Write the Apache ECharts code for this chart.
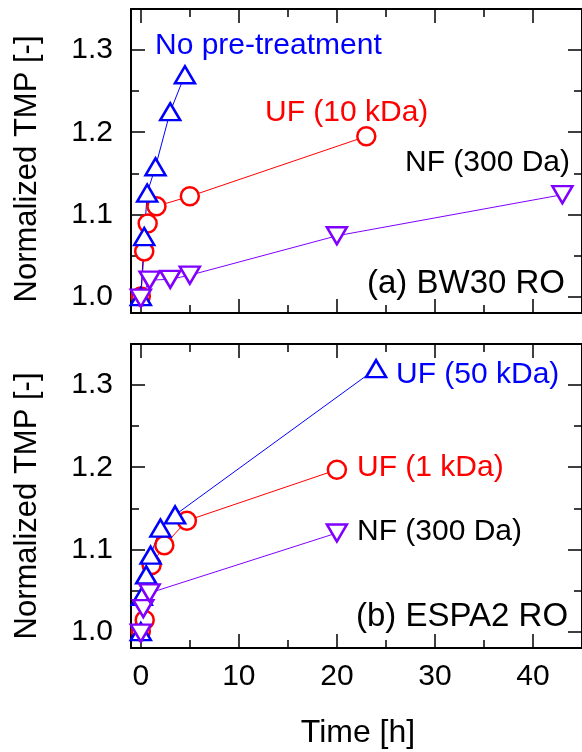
<!DOCTYPE html>
<html><head><meta charset="utf-8">
<script src="https://cdn.jsdelivr.net/npm/echarts@6/dist/echarts.min.js"></script>
<style>html,body{margin:0;padding:0;background:#fff}#c{width:582px;height:752px}</style>
</head><body><div id="c"></div>
<script>
// ---- tick values ----
const xMajor = [0, 10, 20, 30, 40];
const xMinor = [5, 15, 25, 35];
const yMajor = [1.0, 1.1, 1.2, 1.3];
const yMinor = [1.05, 1.15, 1.25];

// ---- (a) BW30 RO ----
const aNoPreX = [0, 0.35, 0.65, 1.5, 3.0, 4.5];
const aNoPreY = [1.0, 1.073, 1.126, 1.158, 1.225, 1.27];
const aUF10X = [0, 0.35, 0.7, 1.6, 5.0, 23.0];
const aUF10Y = [1.0, 1.055, 1.089, 1.11, 1.122, 1.195];
const aNFX = [0, 0.9, 3.0, 5.0, 20.0, 43.0];
const aNFY = [0.998, 1.02, 1.021, 1.026, 1.074, 1.124];

// ---- (b) ESPA2 RO ----
const bUF50X = [0, 0.1, 0.55, 1.0, 2.0, 3.5, 24.0];
const bUF50Y = [1.0, 1.043, 1.069, 1.093, 1.126, 1.142, 1.32];
const bUF1X = [0, 0.4, 1.1, 2.4, 4.7, 20.0];
const bUF1Y = [1.0, 1.014, 1.081, 1.105, 1.135, 1.197];
const bNFX = [0, 0.25, 0.9, 20.0];
const bNFY = [0.998, 1.028, 1.047, 1.12];

const FONT = '"Liberation Sans", Arial, Helvetica, sans-serif';
const BLUE = '#0000ff', RED = '#ff0000', PURPLE = '#8000ff';
const XMIN = -1, XMAX = 45, YMIN = 0.98, YMAX = 1.35;

function zip(xs, ys) { return xs.map((x, i) => [x, ys[i]]); }

function xAxes(gi, showLabels) {
  const base = (pos, vals, len, line, label) => ({
    gridIndex: gi, type: 'value', min: XMIN, max: XMAX, position: pos,
    axisLine: { show: line, onZero: false, lineStyle: { color: '#000', width: 2 } },
    axisTick: { show: true, inside: true, length: len, customValues: vals, lineStyle: { color: '#000', width: 1.5 } },
    axisLabel: { show: label, customValues: xMajor, fontSize: 30, color: '#000', fontFamily: FONT, margin: 14 },
    splitLine: { show: false }
  });
  return [
    base('bottom', xMajor, 14, true, showLabels),
    base('bottom', xMinor, 8, false, false),
    base('top', xMajor, 14, true, false),
    base('top', xMinor, 8, false, false)
  ];
}
function yAxes(gi) {
  const base = (pos, vals, len, line, label) => ({
    gridIndex: gi, type: 'value', min: YMIN, max: YMAX, position: pos,
    axisLine: { show: line, onZero: false, lineStyle: { color: '#000', width: 2 } },
    axisTick: { show: true, inside: true, length: len, customValues: vals, lineStyle: { color: '#000', width: 1.5 } },
    axisLabel: { show: label, customValues: yMajor, fontSize: 30, color: '#000', fontFamily: FONT, margin: 18,
      formatter: v => Number(v).toFixed(1) },
    splitLine: { show: false }
  });
  return [
    base('left', yMajor, 14, true, true),
    base('left', yMinor, 8, false, false),
    base('right', yMajor, 14, true, false),
    base('right', yMinor, 8, false, false)
  ];
}

function ser(gi, xs, ys, color, symbol, rotate, size) {
  return {
    type: 'line', xAxisIndex: gi * 4, yAxisIndex: gi * 4,
    data: zip(xs, ys), symbol: symbol, symbolRotate: rotate, symbolSize: size,
    showAllSymbol: true,
    lineStyle: { color: color, width: 1 },
    itemStyle: { color: '#fff', borderColor: color, borderWidth: 2.5 },
    emphasis: { disabled: true }, silent: true
  };
}

const TRI = [20, 17], CIRC = 18;

function txt(x, y, s, color, size, rot) {
  return { type: 'text', x: x, y: y, rotation: rot || 0, silent: true,
    style: { text: s, fill: color, fontSize: size, fontFamily: FONT,
      textAlign: rot ? 'center' : 'left', textVerticalAlign: 'middle' } };
}

const option = {
  animation: false,
  backgroundColor: '#fff',
  grid: [
    { left: 131, width: 455, top: 9, height: 304 },
    { left: 131, width: 455, top: 344, height: 304 }
  ],
  xAxis: [...xAxes(0, false), ...xAxes(1, true)],
  yAxis: [...yAxes(0), ...yAxes(1)],
  series: [
    ser(0, aUF10X, aUF10Y, RED, 'circle', 0, CIRC),
    ser(0, aNoPreX, aNoPreY, BLUE, 'triangle', 0, TRI),
    ser(0, aNFX, aNFY, PURPLE, 'triangle', 180, TRI),
    ser(1, bUF1X, bUF1Y, RED, 'circle', 0, CIRC),
    ser(1, bUF50X, bUF50Y, BLUE, 'triangle', 0, TRI),
    ser(1, bNFX, bNFY, PURPLE, 'triangle', 180, TRI)
  ],
  graphic: [
    txt(155, 46, 'No pre-treatment', BLUE, 30),
    txt(265, 113, 'UF (10 kDa)', RED, 30),
    txt(405, 163, 'NF (300 Da)', '#000', 30),
    txt(367, 284, '(a) BW30 RO', '#000', 33),
    txt(396, 375, 'UF (50 kDa)', BLUE, 30),
    txt(357, 468, 'UF (1 kDa)', RED, 30),
    txt(357, 532, 'NF (300 Da)', '#000', 30),
    txt(356, 617, '(b) ESPA2 RO', '#000', 33),
    txt(27, 169, 'Normalized TMP [-]', '#000', 31, Math.PI / 2),
    txt(27, 506, 'Normalized TMP [-]', '#000', 31, Math.PI / 2),
    { type: 'text', x: 358, y: 733, silent: true,
      style: { text: 'Time [h]', fill: '#000', fontSize: 32, fontFamily: FONT, textAlign: 'center', textVerticalAlign: 'middle' } }
  ]
};
const chart = echarts.init(document.getElementById('c'), null, { renderer: 'canvas' });
chart.setOption(option);
</script></body></html>
